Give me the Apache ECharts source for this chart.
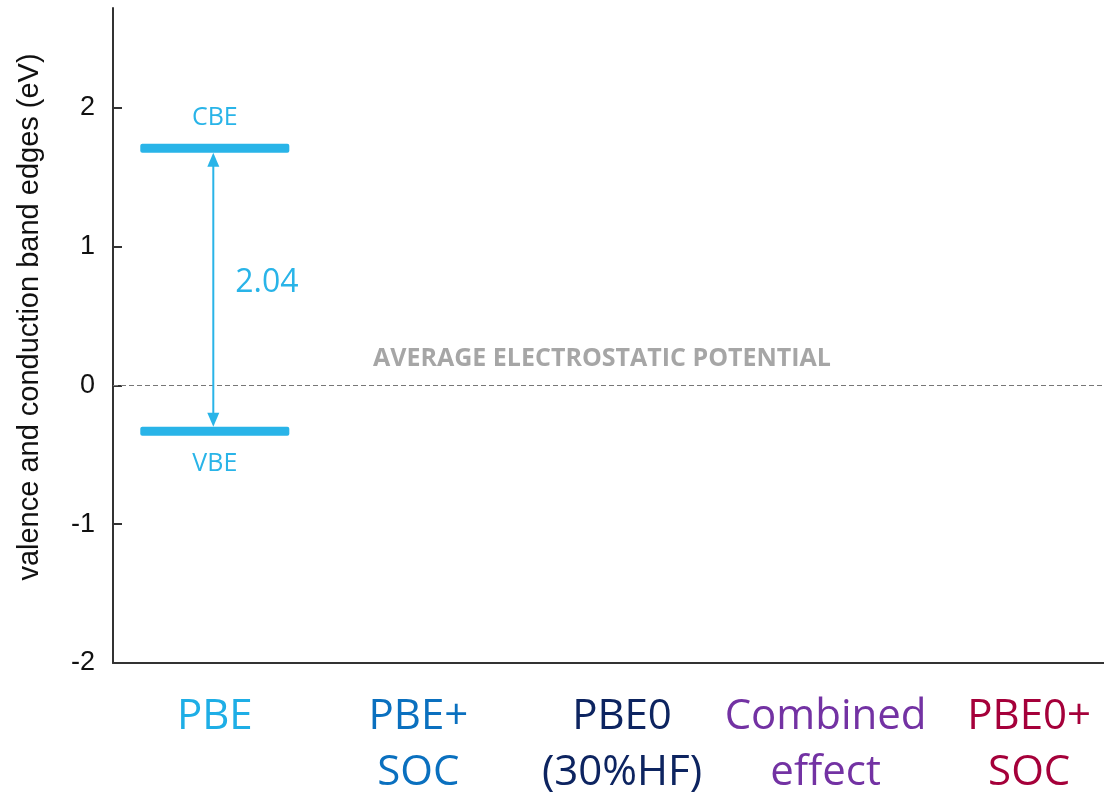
<!DOCTYPE html>
<html>
<head>
<meta charset="utf-8">
<script src="https://cdn.jsdelivr.net/npm/echarts@6/dist/echarts.min.js"></script>
<style>
  html, body { margin: 0; padding: 0; background: #ffffff; }
  #chart { width: 1104px; height: 795px; }
</style>
</head>
<body>
<div id="chart"></div>
<script>
// Methods compared (x categories) and their label colours
const methods = ['PBE', 'PBE+\nSOC', 'PBE0\n(30%HF)', 'Combined\neffect', 'PBE0+\nSOC'];
const methodColors = ['#1eaee6', '#0a70bf', '#0d2460', '#7332a3', '#a5003a'];

// Band edges (eV) relative to the average electrostatic potential
const cbe = [1.71, null, null, null, null];
const vbe = [-0.33, null, null, null, null];

// Value axis ticks
const yTicks = [-2, -1, 0, 1, 2];

// Reference level
const refLevel = 0;
const refLabel = 'AVERAGE ELECTROSTATIC POTENTIAL';
const yTitle = 'valence and conduction band edges (eV)';

const edgeBlue = '#29b4e8';

const edgeData = [];
methods.forEach(function (m, i) {
  if (cbe[i] != null && vbe[i] != null) edgeData.push([i, cbe[i], vbe[i]]);
});

function renderEdges(params, api) {
  const i = api.value(0);
  const c = api.value(1);
  const v = api.value(2);
  const band = api.size([1, 0])[0];
  const half = band * 0.366;
  const pc = api.coord([i, c]);
  const pv = api.coord([i, v]);
  const x = pc[0];
  const th = 9;
  const ax = x - 1.5;
  const head = 14, hw = 6;
  const y1 = pc[1] + th / 2;
  const y2 = pv[1] - th / 2;
  const gap = (c - v).toFixed(2);
  return {
    type: 'group',
    children: [
      { type: 'rect', shape: { x: x - half, y: pc[1] - th / 2, width: 2 * half, height: th, r: 2 }, style: { fill: edgeBlue } },
      { type: 'rect', shape: { x: x - half, y: pv[1] - th / 2, width: 2 * half, height: th, r: 2 }, style: { fill: edgeBlue } },
      { type: 'line', shape: { x1: ax, y1: y1 + head - 1, x2: ax, y2: y2 - head + 1 }, style: { stroke: edgeBlue, lineWidth: 2 } },
      { type: 'polygon', shape: { points: [[ax, y1], [ax - hw, y1 + head], [ax + hw, y1 + head]] }, style: { fill: edgeBlue } },
      { type: 'polygon', shape: { points: [[ax, y2], [ax - hw, y2 - head], [ax + hw, y2 - head]] }, style: { fill: edgeBlue } },
      { type: 'text', style: { text: 'CBE', x: x, y: pc[1] - 30, align: 'center', verticalAlign: 'middle', font: '25px "Open Sans"', fill: edgeBlue } },
      { type: 'text', style: { text: 'VBE', x: x, y: pv[1] + 33, align: 'center', verticalAlign: 'middle', font: '25px "Open Sans"', fill: edgeBlue } },
      { type: 'text', style: { text: gap, x: ax + 22, y: (pc[1] + pv[1]) / 2 - 7, align: 'left', verticalAlign: 'middle', font: '32px "Open Sans"', fill: edgeBlue } }
    ]
  };
}

const chart = echarts.init(document.getElementById('chart'), null, { renderer: 'canvas' });

chart.setOption({
  animation: false,
  backgroundColor: '#ffffff',
  grid: { left: 113, right: -27, top: 8, bottom: 132, containLabel: false, outerBoundsMode: 'none' },
  xAxis: {
    type: 'category',
    data: methods,
    boundaryGap: true,
    axisLine: { onZero: false, lineStyle: { color: '#333333', width: 2 } },
    axisTick: { alignWithLabel: true, inside: true, length: 9, lineStyle: { color: '#333333', width: 2 } },
    axisLabel: {
      interval: 0,
      margin: 26,
      fontFamily: 'Open Sans',
      fontSize: 42,
      lineHeight: 56,
      color: function (value, index) { return methodColors[index]; }
    },
    splitLine: { show: false }
  },
  yAxis: {
    type: 'value',
    min: -2,
    max: 2.72,
    interval: 1,
    axisLine: { show: true, lineStyle: { color: '#333333', width: 2 } },
    axisTick: { show: true, inside: true, length: 9, customValues: yTicks, lineStyle: { color: '#333333', width: 2 } },
    axisLabel: {
      customValues: yTicks,
      margin: 18,
      fontFamily: 'Liberation Sans',
      fontSize: 27,
      color: '#111111'
    },
    splitLine: { show: false }
  },
  graphic: [
    {
      type: 'text',
      x: 30,
      y: 317,
      rotation: Math.PI / 2,
      style: {
        text: yTitle,
        font: '29px "Liberation Sans"',
        fill: '#111111',
        align: 'center',
        verticalAlign: 'middle'
      }
    }
  ],
  series: [
    {
      type: 'custom',
      renderItem: renderEdges,
      data: edgeData,
      encode: { x: 0, y: [1, 2] },
      silent: true,
      z: 5,
      markLine: {
        silent: true,
        symbol: 'none',
        data: [{ yAxis: refLevel }],
        lineStyle: { color: '#777777', type: [5, 3], width: 1 },
        label: {
          show: true,
          formatter: refLabel,
          position: 'insideMiddleTop',
          distance: 14,
          padding: [0, 40, 0, 0],
          fontFamily: 'Open Sans',
          fontWeight: 'bold',
          fontSize: 25,
          color: '#a6a6a6'
        }
      }
    }
  ]
});
</script>
</body>
</html>
